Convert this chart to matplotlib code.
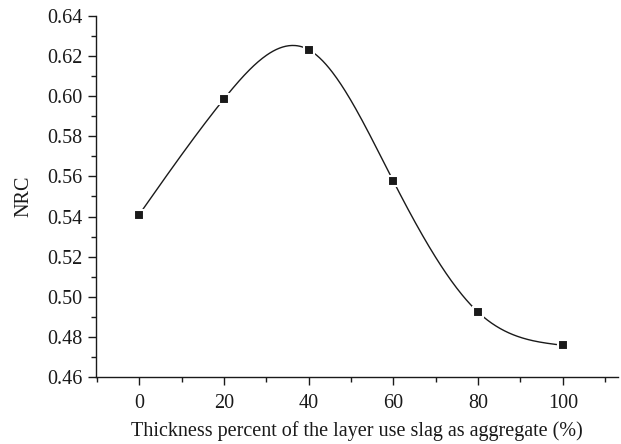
import numpy as np
import matplotlib
matplotlib.use("Agg")
import matplotlib.pyplot as plt
from matplotlib.ticker import MultipleLocator

thickness = [0, 20, 40, 60, 80, 100]
nrc = [0.541, 0.5986, 0.6232, 0.5576, 0.4923, 0.4758]


def natural_spline(x, y, xs):
    # plain natural cubic spline, just for drawing the smooth line
    x = np.asarray(x, float)
    y = np.asarray(y, float)
    n = len(x)
    h = np.diff(x)
    A = np.zeros((n, n))
    b = np.zeros(n)
    A[0, 0] = 1
    A[-1, -1] = 1
    for i in range(1, n - 1):
        A[i, i - 1] = h[i - 1]
        A[i, i] = 2 * (h[i - 1] + h[i])
        A[i, i + 1] = h[i]
        b[i] = 3 * ((y[i + 1] - y[i]) / h[i] - (y[i] - y[i - 1]) / h[i - 1])
    c = np.linalg.solve(A, b)
    out = np.empty_like(xs)
    for k, xv in enumerate(xs):
        i = min(np.searchsorted(x, xv, side="right") - 1, n - 2)
        i = max(i, 0)
        dx = xv - x[i]
        bi = (y[i + 1] - y[i]) / h[i] - h[i] * (2 * c[i] + c[i + 1]) / 3
        di = (c[i + 1] - c[i]) / (3 * h[i])
        out[k] = y[i] + bi * dx + c[i] * dx ** 2 + di * dx ** 3
    return out


plt.rcParams["font.family"] = ["Liberation Serif", "DejaVu Serif"]

fig = plt.figure(figsize=(6.21, 4.44), dpi=100)
ax = fig.add_axes([0.1546, 0.151, 0.8404, 0.813])

xs = np.linspace(thickness[0], thickness[-1], 400)
ax.plot(xs, natural_spline(thickness, nrc, xs), color="#1a1a1a", lw=1.0, zorder=2)
ax.plot(thickness, nrc, ls="none", marker="s", ms=7.5, color="#1a1a1a",
        mec="white", mew=1.5, zorder=3)

ax.set_xlim(-10.2, 113)
ax.set_ylim(0.46, 0.64)
ax.xaxis.set_major_locator(MultipleLocator(20))
ax.xaxis.set_minor_locator(MultipleLocator(10))
ax.yaxis.set_major_locator(MultipleLocator(0.02))
ax.yaxis.set_minor_locator(MultipleLocator(0.01))
ax.yaxis.set_major_formatter(matplotlib.ticker.FormatStrFormatter("%.2f"))

for side in ["top", "right"]:
    ax.spines[side].set_visible(False)
for side in ["left", "bottom"]:
    ax.spines[side].set_linewidth(1.0)
    ax.spines[side].set_color("#1a1a1a")

ax.tick_params(which="major", direction="out", length=6, width=1.0,
               labelsize=14.5, colors="#1a1a1a")
ax.tick_params(axis="x", which="major", pad=6)
ax.tick_params(which="minor", direction="out", length=3.5, width=1.0,
               colors="#1a1a1a")

ax.set_xlabel("Thickness percent of the layer use slag as aggregate (%)",
              fontsize=14.5, color="#1a1a1a", labelpad=6)
ax.set_ylabel("NRC", fontsize=14.5, color="#1a1a1a", labelpad=10)

fig.savefig("out.png", dpi=100)
